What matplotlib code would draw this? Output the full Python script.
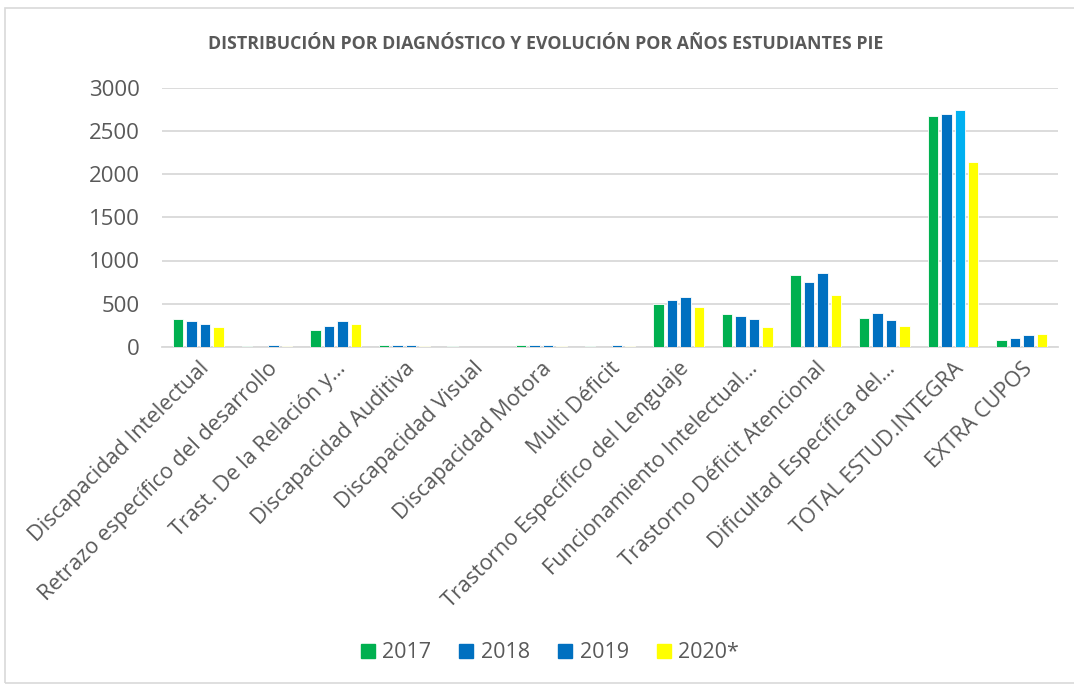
import numpy as np
import matplotlib
matplotlib.use("Agg")
import matplotlib.pyplot as plt
from matplotlib.patches import Rectangle

plt.rcParams['font.family'] = ['Open Sans', 'DejaVu Sans']

categories = ["Discapacidad Intelectual", "Retrazo específico del desarrollo",
              "Trast. De la Relación y…", "Discapacidad Auditiva",
              "Discapacidad Visual", "Discapacidad Motora", "Multi Déficit",
              "Trastorno Específico del Lenguaje", "Funcionamiento Intelectual…",
              "Trastorno Déficit Atencional", "Dificultad Específica del…",
              "TOTAL ESTUD.INTEGRA", "EXTRA CUPOS"]
years = ["2017", "2018", "2019", "2020*"]
v2017 = [329, 8, 202, 19, 8, 19, 8, 497, 382, 829, 335, 2668, 81]
v2018 = [302, 4, 240, 19, 0, 27, 4, 540, 362, 748, 389, 2691, 108]
v2019 = [271, 19, 298, 19, 0, 19, 19, 578, 320, 852, 308, 2737, 139]
v2020 = [229, 8, 264, 15, 0, 15, 15, 463, 235, 605, 239, 2136, 150]
series = [v2017, v2018, v2019, v2020]
colors = ["#00B050", "#0070C0", "#0070C0", "#FFFF00"]
highlight = "#00B0F0"  # 2019 bar of TOTAL ESTUD.INTEGRA
grey = "#595959"

fig = plt.figure(figsize=(10.74, 6.85), dpi=100)
W, H = 1074, 685
ax = fig.add_axes([162 / W, 1 - 347 / H, (1058 - 162) / W, (347 - 87.5) / H])

x = np.arange(len(categories))
pitch, bw = 0.196, 0.152
for i, (vals, c) in enumerate(zip(series, colors)):
    cols = [c] * len(vals)
    if i == 2:
        cols[11] = highlight
    ax.bar(x + (i - 1.5) * pitch, vals, bw, color=cols, edgecolor="white",
           linewidth=0.6, label=years[i], zorder=3)

ax.set_xlim(-0.53, len(categories) - 0.47)
ax.set_ylim(0, 3000)
ax.set_yticks(np.arange(0, 3001, 500))
ax.yaxis.grid(True, color="#D9D9D9", linewidth=1.3, zorder=0)
ax.set_axisbelow(True)
for s in ["top", "right", "left"]:
    ax.spines[s].set_visible(False)
ax.spines["bottom"].set_color("#D9D9D9")
ax.spines["bottom"].set_linewidth(1.3)
ax.tick_params(length=0, colors=grey, labelsize=16)
ax.tick_params(axis="x", labelsize=15.6, pad=8)
ax.tick_params(axis="y", pad=16)
ax.set_xticks(x)
ax.set_xticklabels(categories, rotation=45, ha="right", rotation_mode="anchor")
for lbl in ax.get_xticklabels():
    lbl.set_x(lbl.get_position()[0])

fig.text(546 / W, 1 - 44 / H,
         "DISTRIBUCIÓN POR DIAGNÓSTICO Y EVOLUCIÓN POR AÑOS ESTUDIANTES PIE",
         ha="center", va="center", fontsize=12.8, fontweight="bold", color=grey)

handles = [Rectangle((0, 0), 1, 1, color=c) for c in colors]
fig.legend(handles, years, loc="center", bbox_to_anchor=(550 / W, 1 - 653 / H),
           ncol=4, frameon=False, fontsize=15.5, labelcolor=grey,
           handlelength=0.65, handleheight=0.65, handletextpad=0.35, columnspacing=1.3)

fig.patches.append(Rectangle((5 / W, 2 / H), 1.2, (675) / H, transform=fig.transFigure,
                             fill=False, edgecolor="#D9D9D9", linewidth=1.2))

fig.savefig("out.png", dpi=100)
